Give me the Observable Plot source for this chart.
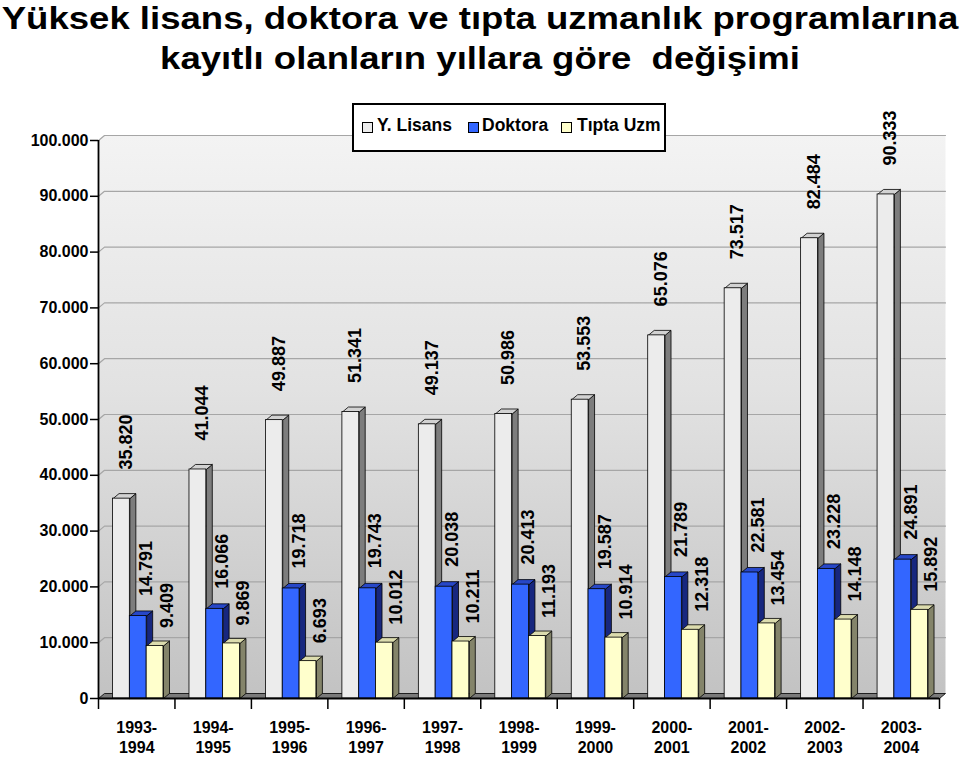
<!DOCTYPE html>
<html>
<head>
<meta charset="utf-8">
<script src="https://cdn.jsdelivr.net/npm/d3@7"></script>
<script src="https://cdn.jsdelivr.net/npm/@observablehq/plot@0.6"></script>
<style>
  html, body { margin: 0; padding: 0; background: #fff; }
  #wrap { position: relative; width: 960px; height: 758px; overflow: hidden; font-family: "Liberation Sans", Arial, sans-serif; }
  #title { position: absolute; left: 0; top: 2px; width: 960px; text-align: center; font-weight: bold; font-size: 32px; white-space: nowrap; color: #000; z-index: 2; transform: scaleX(1.142); transform-origin: 480px 0; }
  #title div { line-height: 32px; height: 32px; }
  #title .l2 { margin-top: 8px; }
  #legend { position: absolute; left: 352px; top: 103px; width: 310px; height: 45px; border: 2px solid #000; background: #fff; z-index: 2; overflow: hidden; }
  #legend .sw { position: absolute; top: 17px; width: 9px; height: 9px; border: 1px solid #000; }
  #legend .lb { position: absolute; top: 12px; font-size: 17.5px; font-weight: bold; line-height: 17px; white-space: nowrap; color: #000; }
  #chart { position: absolute; left: 0; top: 0; }
</style>
</head>
<body>
<div id="wrap">
  <div id="chart"></div>
  <div id="title"><div>Yüksek lisans, doktora ve tıpta uzmanlık programlarına</div><div class="l2">kayıtlı olanların yıllara göre&nbsp; değişimi</div></div>
  <div id="legend"></div>
</div>
<script>
// ---- data ----
const years = ["1993-1994","1994-1995","1995-1996","1996-1997","1997-1998","1998-1999","1999-2000","2000-2001","2001-2002","2002-2003","2003-2004"];
const seriesNames = ["Y. Lisans", "Doktora", "Tıpta Uzm"];
const yLisans = [35820, 41044, 49887, 51341, 49137, 50986, 53553, 65076, 73517, 82484, 90333];
const doktora = [14791, 16066, 19718, 19743, 20038, 20413, 19587, 21789, 22581, 23228, 24891];
const tiptaUzm = [9409, 9869, 6693, 10012, 10211, 11193, 10914, 12318, 13454, 14148, 15892];
const yTicks = [0, 10000, 20000, 30000, 40000, 50000, 60000, 70000, 80000, 90000, 100000];

// ---- styling ----
const faceColors = [
  {front: "#ececec", side: "#7d7d7d", top: "#d2d2d2"},
  {front: "#3366ff", side: "#17277f", top: "#2747c8"},
  {front: "#ffffcc", side: "#84846a", top: "#dcdcae"}
];
const labelDx = [4.5, 8, 12];
const labelGap = [29, 20, 18];

const trLocale = d3.formatLocale({decimal: ",", thousands: ".", grouping: [3], currency: ["", ""]});
const fmt = trLocale.format(",");

// layout constants (category units / value units)
const nCat = years.length;
const start0 = 0.19, bw = 0.22;
const DX = 6 / 76.45;        // depth offset in category units
const DY = 5 / 558 * 100000; // depth offset in value units
const YMAX = 100000;

const values = [yLisans, doktora, tiptaUzm];
const bars = [];
values.forEach((arr, k) => arr.forEach((v, i) => {
  const x1 = i + start0 + k * bw;
  bars.push({k, i, v, x1, x2: x1 + bw, xc: x1 + bw / 2, name: seriesNames[k], year: years[i]});
}));

function sidePoly(b) {
  const id = "s" + b.k + "_" + b.i;
  return [
    {x: b.x2, y: 0, id}, {x: b.x2 + DX, y: DY, id}, {x: b.x2 + DX, y: b.v + DY, id},
    {x: b.x2, y: b.v, id}, {x: b.x2, y: 0, id}
  ];
}
function topPoly(b) {
  const id = "t" + b.k + "_" + b.i;
  return [
    {x: b.x1, y: b.v, id}, {x: b.x2, y: b.v, id}, {x: b.x2 + DX, y: b.v + DY, id},
    {x: b.x1 + DX, y: b.v + DY, id}, {x: b.x1, y: b.v, id}
  ];
}

const wall = [
  {x: 0, y: 0}, {x: 0, y: YMAX}, {x: DX, y: YMAX + DY}, {x: nCat + DX, y: YMAX + DY},
  {x: nCat + DX, y: DY}, {x: nCat, y: 0}, {x: 0, y: 0}
];
const floor = [
  {x: 0, y: 0}, {x: nCat, y: 0}, {x: nCat + DX, y: DY}, {x: DX, y: DY}, {x: 0, y: 0}
];
const grid = yTicks.filter(t => t > 0).flatMap(t => [
  {x: 0, y: t, id: t}, {x: DX, y: t + DY, id: t}, {x: nCat + DX, y: t + DY, id: t}
]);

const barMarks = [];
for (let k = 0; k < 3; k++) {
  const bk = bars.filter(b => b.k === k);
  const c = faceColors[k];
  barMarks.push(
    Plot.line(bk.flatMap(sidePoly), {x: "x", y: "y", z: "id", fill: c.side, stroke: "#000", strokeWidth: 0.8, strokeLinejoin: "round", curve: "linear"}),
    Plot.line(bk.flatMap(topPoly), {x: "x", y: "y", z: "id", fill: c.top, stroke: "#000", strokeWidth: 0.8, strokeLinejoin: "round", curve: "linear"}),
    Plot.rect(bk, {x1: "x1", x2: "x2", y1: 0, y2: "v", fill: c.front, stroke: "#000", strokeWidth: 0.8, inset: 0})
  );
}

const labelMarks = [0, 1, 2].map(k => Plot.text(bars.filter(b => b.k === k), {
  x: "xc", y: "v", text: d => fmt(d.v), rotate: -90, textAnchor: "start",
  dx: labelDx[k], dy: -labelGap[k], fontSize: 18, fontWeight: "bold", fill: "#000"
}));

const catIdx = d3.range(nCat);
const catTicks = d3.range(nCat + 1);

const chart = Plot.plot({
  width: 960,
  height: 758,
  marginTop: 140,
  marginBottom: 60,
  marginLeft: 98,
  marginRight: 21,
  x: {type: "linear", domain: [0, nCat], axis: null},
  y: {type: "linear", domain: [0, YMAX], axis: null},
  style: {fontFamily: "'Liberation Sans', Arial, sans-serif", background: "transparent", overflow: "visible"},
  marks: [
    Plot.line(wall, {x: "x", y: "y", fill: "url(#wallGrad)", stroke: "none", curve: "linear"}),
    Plot.line(grid, {x: "x", y: "y", z: "id", stroke: "#a6a6a6", strokeWidth: 1.2, curve: "linear"}),
    Plot.line(floor, {x: "x", y: "y", fill: "#7a7a7a", stroke: "#000", strokeWidth: 0.8, curve: "linear"}),
    ...barMarks,
    // axes
    Plot.ruleX([0], {y1: 0, y2: YMAX, stroke: "#000", strokeWidth: 1.8}),
    Plot.ruleY([0], {x1: 0, x2: nCat, stroke: "#000", strokeWidth: 1.8}),
    Plot.ruleY(yTicks, {x1: -8 / 76.45, x2: 0, stroke: "#000", strokeWidth: 1.5}),
    Plot.ruleX(catTicks, {y1: 0, y2: -11 / 558 * YMAX, stroke: "#000", strokeWidth: 1.5}),
    Plot.text(yTicks, {x: 0, y: d => d, text: d => fmt(d), textAnchor: "end", dx: -10, fontSize: 16, fontWeight: "bold", fill: "#000"}),
    Plot.text(catIdx, {x: i => i + 0.5, y: 0, text: i => years[i].split("-")[0] + "-", dy: 29, fontSize: 16, fontWeight: "bold", fill: "#000"}),
    Plot.text(catIdx, {x: i => i + 0.5, y: 0, text: i => years[i].split("-")[1], dy: 49, fontSize: 16, fontWeight: "bold", fill: "#000"}),
    ...labelMarks
  ]
});

// gradient for back wall
const ns = "http://www.w3.org/2000/svg";
const defs = document.createElementNS(ns, "defs");
defs.innerHTML = '<linearGradient id="wallGrad" x1="0" y1="0" x2="0" y2="1">' +
  '<stop offset="0" stop-color="#f3f3f3"/>' +
  '<stop offset="0.45" stop-color="#e2e2e2"/>' +
  '<stop offset="1" stop-color="#c2c2c2"/></linearGradient>';
chart.insertBefore(defs, chart.firstChild);
document.getElementById("chart").appendChild(chart);

// legend
const legend = document.getElementById("legend");
const swLeft = [8, 114, 207];
const lbLeft = [23, 128, 223];
seriesNames.forEach((name, k) => {
  const sw = document.createElement("div");
  sw.className = "sw";
  sw.style.left = swLeft[k] + "px";
  sw.style.background = faceColors[k].front;
  legend.appendChild(sw);
  const lb = document.createElement("div");
  lb.className = "lb";
  lb.style.left = lbLeft[k] + "px";
  lb.textContent = name;
  legend.appendChild(lb);
});
</script>
</body>
</html>
